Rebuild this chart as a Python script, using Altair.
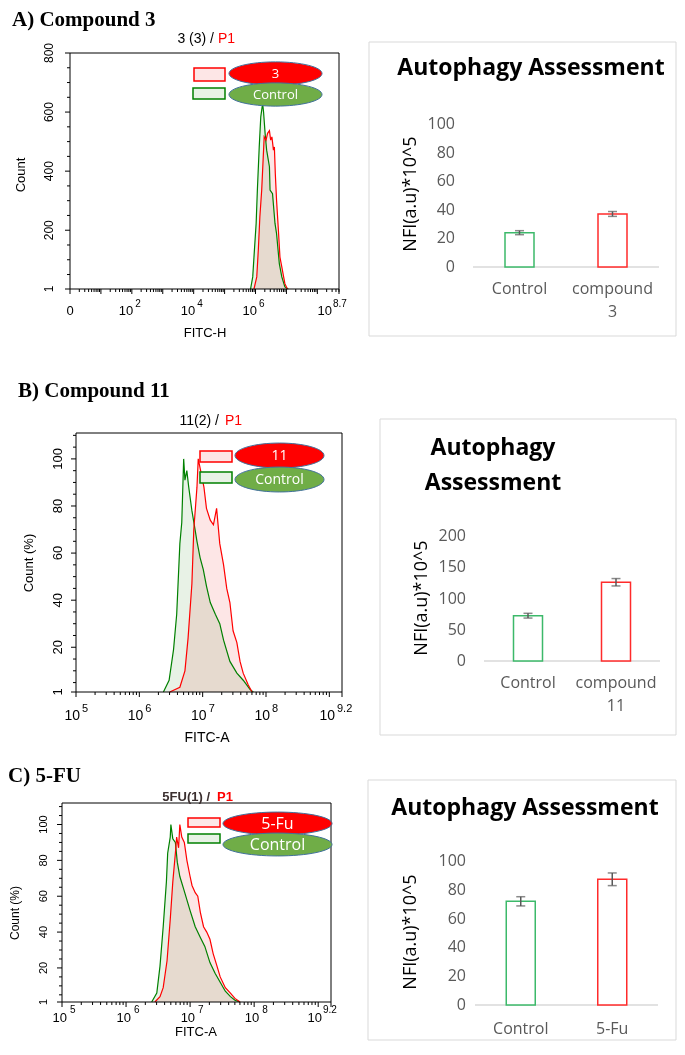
import math
import altair as alt
import pandas as pd

# ---------------- data ----------------
# Panel A flow histogram (x = log10 FITC-H, y = count)
A_red_x = [5.95, 6.04, 6.09, 6.14, 6.20, 6.25, 6.28, 6.34, 6.39, 6.45, 6.49, 6.53, 6.58, 6.61, 6.64, 6.68, 6.74, 6.79, 6.85, 6.90, 6.95, 7.03]
A_red_y = [1, 42, 132, 245, 336, 448, 516, 505, 528, 537, 505, 516, 471, 482, 392, 302, 200, 109, 76, 47, 19, 1]
A_green_x = [5.84, 5.91, 5.95, 6.02, 6.06, 6.12, 6.17, 6.23, 6.26, 6.31, 6.36, 6.45, 6.47, 6.55, 6.63, 6.68, 6.77, 6.85, 6.95, 7.06]
A_green_y = [1, 42, 109, 223, 336, 482, 584, 630, 600, 528, 471, 415, 336, 324, 223, 189, 87, 42, 8, 1]

# Panel B flow histogram (x = log10 FITC-A, y = count %)
B_red_x = [6.48, 6.64, 6.72, 6.77, 6.83, 6.86, 6.91, 6.93, 6.99, 7.02, 7.06, 7.12, 7.17, 7.22, 7.27, 7.33, 7.38, 7.43, 7.48, 7.54, 7.59, 7.64, 7.72, 7.78]
B_red_y = [1, 3, 10, 24, 47, 70, 88, 100, 92, 88, 79, 74, 72, 79, 64, 55, 45, 39, 27, 22, 14, 9, 4, 1]
B_green_x = [6.38, 6.47, 6.54, 6.59, 6.64, 6.67, 6.70, 6.72, 6.75, 6.78, 6.83, 6.88, 6.91, 6.96, 7.01, 7.06, 7.12, 7.20, 7.27, 7.33, 7.43, 7.54, 7.64, 7.75, 7.80]
B_green_y = [1, 6, 19, 34, 64, 73, 100, 91, 95, 88, 78, 70, 65, 58, 53, 46, 39, 34, 30, 23, 14, 9, 6, 2, 1]

# Panel C flow histogram
C_red_x = [6.45, 6.53, 6.58, 6.64, 6.69, 6.73, 6.77, 6.79, 6.82, 6.84, 6.87, 6.91, 6.95, 7.00, 7.03, 7.08, 7.12, 7.16, 7.21, 7.26, 7.31, 7.36, 7.42, 7.47, 7.55, 7.63, 7.70, 7.78]
C_red_y = [1, 4, 9, 24, 47, 68, 84, 93, 87, 100, 93, 90, 80, 71, 66, 62, 60, 51, 43, 40, 36, 28, 21, 15, 9, 6, 3, 1]
C_green_x = [6.40, 6.48, 6.53, 6.58, 6.63, 6.65, 6.69, 6.70, 6.73, 6.77, 6.80, 6.84, 6.90, 6.95, 7.00, 7.08, 7.16, 7.23, 7.31, 7.39, 7.47, 7.55, 7.63, 7.70, 7.78]
C_green_y = [1, 6, 21, 43, 68, 84, 93, 100, 92, 90, 79, 71, 64, 58, 52, 43, 37, 32, 23, 17, 12, 7, 4, 2, 1]

# Histogram axis ticks / labels
A_xmajor = [0, 1, 2, 3, 4, 5, 6, 7, 8, 8.7]
A_xlab_pos = [2, 4, 6]
A_xlab_exp = ["2", "4", "6"]
A_ymajor = [1, 200, 400, 600, 800]
A_ylabels = ["1", "200", "400", "600", "800"]
BC_xmajor = [5, 6, 7, 8, 9, 9.2]
BC_xlab_pos = [5, 6, 7, 8]
BC_xlab_exp = ["5", "6", "7", "8"]
BC_ymajor = [1, 20, 40, 60, 80, 100]
BC_ylabels = ["1", "20", "40", "60", "80", "100"]

# Bar charts (NFI)
A_bar_cats = ["Control", "compound\n3"]
A_bar_vals = [24.0, 37.1]
A_bar_errs = [1.4, 1.7]
A_bar_ticks = [0, 20, 40, 60, 80, 100]
B_bar_cats = ["Control", "compound\n11"]
B_bar_vals = [72.5, 126.0]
B_bar_errs = [3.8, 5.9]
B_bar_ticks = [0, 50, 100, 150, 200]
C_bar_cats = ["Control", "5-Fu"]
C_bar_vals = [72.0, 87.3]
C_bar_errs = [3.2, 4.4]
C_bar_ticks = [0, 20, 40, 60, 80, 100]

# ---------------- styles ----------------
SANS = "Liberation Sans"
SERIF = "Liberation Serif"
OPEN = "Open Sans"
RED = "#ff0000"
GREEN = "#008000"
PINK = "#fde6e6"
LGREEN = "#e8f2e6"
BAR_COLORS = ["#3cb96a", "#ff2b2b"]
GRAY = "#595959"
ONE = pd.DataFrame({"d": [0]})


def txt(text, x, y, size, color="black", font=SANS, align="center",
        baseline="middle", angle=0, weight="normal"):
    return alt.Chart(ONE).mark_text(
        text=text, align=align, baseline=baseline, font=font, fontSize=size,
        color=color, angle=angle, fontWeight=weight
    ).encode(x=alt.value(x), y=alt.value(y))


def rect(x1, x2, y1, y2, fill, stroke, sw=1.5, fo=1):
    return alt.Chart(ONE).mark_rect(fill=fill, stroke=stroke, strokeWidth=sw, fillOpacity=fo).encode(
        x=alt.value(x1), x2=alt.value(x2), y=alt.value(y1), y2=alt.value(y2))


def ellipse(cx, cy, w, ry, fill):
    k = 0.5523
    p = (f"M-1,0 C-1,{-k*ry:.4f} {-k:.4f},{-ry:.4f} 0,{-ry:.4f} "
         f"C{k:.4f},{-ry:.4f} 1,{-k*ry:.4f} 1,0 "
         f"C1,{k*ry:.4f} {k:.4f},{ry:.4f} 0,{ry:.4f} "
         f"C{-k:.4f},{ry:.4f} -1,{k*ry:.4f} -1,0 Z")
    return alt.Chart(ONE).mark_point(
        shape=p, size=w * w, filled=True, fill=fill, stroke="#41719c",
        strokeWidth=1, opacity=1, fillOpacity=1
    ).encode(x=alt.value(cx), y=alt.value(cy))


def hist_panel(p):
    L, R, T, B = p["frame"]
    xs = alt.Scale(domain=p["xdom"], range=[L, R], nice=False, zero=False)
    ys = alt.Scale(domain=p["ydom"], range=[B, T], nice=False, zero=False)
    base = p["ydom"][0]
    red = pd.DataFrame({"x": p["rx"], "y": p["ry"], "b": [base] * len(p["rx"])})
    grn = pd.DataFrame({"x": p["gx"], "y": p["gy"], "b": [base] * len(p["gx"])})
    X = lambda: alt.X("x:Q", scale=xs, axis=None)
    Y = lambda: alt.Y("y:Q", scale=ys, axis=None)
    layers = [
        alt.Chart(red).mark_area(color=PINK, blend="multiply", opacity=1).encode(x=X(), y=Y(), y2="b:Q"),
        alt.Chart(grn).mark_area(color=LGREEN, blend="multiply", opacity=1).encode(x=X(), y=Y(), y2="b:Q"),
        alt.Chart(grn).mark_line(color=GREEN, strokeWidth=1.2).encode(x=X(), y=Y()),
        alt.Chart(red).mark_line(color=RED, strokeWidth=1.2).encode(x=X(), y=Y()),
        rect(L, R, T, B, "white", "black", sw=1, fo=0),
        # ticks
        alt.Chart(pd.DataFrame({"x": p["xmajor"]})).mark_rule(color="black", strokeWidth=1).encode(
            x=X(), y=alt.value(B), y2=alt.value(B + 5)),
        alt.Chart(pd.DataFrame({"x": p["xminor"]})).mark_rule(color="black", strokeWidth=1).encode(
            x=X(), y=alt.value(B), y2=alt.value(B + 3)),
        alt.Chart(pd.DataFrame({"y": p["ymajor"]})).mark_rule(color="black", strokeWidth=1).encode(
            y=Y(), x=alt.value(L - 5), x2=alt.value(L)),
        alt.Chart(pd.DataFrame({"y": p["yminor"]})).mark_rule(color="black", strokeWidth=1).encode(
            y=Y(), x=alt.value(L - 3), x2=alt.value(L)),
        # tick labels
        alt.Chart(pd.DataFrame({"y": p["ymajor"], "t": p["ylabels"]})).mark_text(
            angle=270, align="center", baseline="alphabetic", font=SANS,
            fontSize=p["ylab_size"], color="black"
        ).encode(y=Y(), x=alt.value(p["ylab_x"]), text="t:N"),
        alt.Chart(pd.DataFrame({"x": p["xlab_pos"]})).mark_text(
            text="10", align="right", baseline="alphabetic", dx=p["base_dx"],
            font=SANS, fontSize=p["base_size"], color="black"
        ).encode(x=X(), y=alt.value(p["base_y"])),
        alt.Chart(pd.DataFrame({"x": p["xlab_pos"], "t": p["xlab_exp"]})).mark_text(
            align="left", baseline="alphabetic", dx=p["exp_dx"],
            font=SANS, fontSize=p["exp_size"], color="black"
        ).encode(x=X(), y=alt.value(p["exp_y"]), text="t:N"),
        alt.Chart(pd.DataFrame({"x": [p["end"][0]]})).mark_text(
            text="10", align="right", baseline="alphabetic", dx=p["end_base_dx"],
            font=SANS, fontSize=p["base_size"], color="black"
        ).encode(x=X(), y=alt.value(p["base_y"])),
        alt.Chart(pd.DataFrame({"x": [p["end"][0]], "t": [p["end"][1]]})).mark_text(
            align="left", baseline="alphabetic", dx=p["end_exp_dx"],
            font=SANS, fontSize=p["exp_size"], color="black"
        ).encode(x=X(), y=alt.value(p["exp_y"]), text="t:N"),
    ]
    if p.get("zero"):
        layers.append(alt.Chart(pd.DataFrame({"x": [0]})).mark_text(
            text="0", align="center", baseline="alphabetic", font=SANS,
            fontSize=p["base_size"], color="black").encode(x=X(), y=alt.value(p["base_y"])))
    layers += [
        txt(p["title"], p["title_xy"][0], p["title_xy"][1], 21, font=SERIF,
            align="left", baseline="alphabetic", weight="bold"),
        txt(p["sub"], p["sub_x"][0], p["sub_y"], p["sub_size"], color=p["sub_color"],
            align="right", baseline="alphabetic", weight=p["sub_weight"]),
        txt("P1", p["sub_x"][1], p["sub_y"], p["sub_size"], color=RED,
            align="left", baseline="alphabetic", weight=p["sub_weight"]),
        txt(p["ytitle"], p["ytitle_xy"][0], p["ytitle_xy"][1], p["ytitle_size"], angle=270),
        txt(p["xtitle"], p["xtitle_xy"][0], p["xtitle_xy"][1], p["xtitle_size"]),
        rect(*p["rect1"], PINK, RED),
        rect(*p["rect2"], LGREEN, GREEN),
        ellipse(p["e1"][0], p["e1"][1], p["ew"], p["ery"], RED),
        txt(p["lab1"], p["e1"][0], p["e1"][1], p["elab_size"], color="white", font=OPEN),
        ellipse(p["e2"][0], p["e2"][1], p["ew"], p["ery"], "#70ad47"),
        txt("Control", p["e2"][0], p["e2"][1], p["elab_size"], color="white", font=OPEN),
    ]
    return alt.layer(*layers)


def bar_panel(p):
    L, R, T, B = p["frame"]
    df = pd.DataFrame({
        "cat": p["cats"], "val": p["vals"],
        "lo": [v - e for v, e in zip(p["vals"], p["errs"])],
        "hi": [v + e for v, e in zip(p["vals"], p["errs"])],
        "z": [0, 0], "col": BAR_COLORS,
    })
    xsc = alt.Scale(domain=p["cats"], range=[L, R], paddingInner=0, paddingOuter=0)
    ysc = alt.Scale(domain=p["ydom"], range=[B, T], nice=False)
    X = lambda: alt.X("cat:N", scale=xsc, sort=None, axis=None)
    Y = lambda f: alt.Y(f, scale=ysc, axis=None)
    bx = p["box"]
    layers = [
        rect(bx[0], bx[1], bx[2], bx[3], "white", "#d9d9d9", sw=1, fo=0),
        alt.Chart(pd.DataFrame({"v": [0]})).mark_rule(color="#d9d9d9", strokeWidth=1.5).encode(
            y=Y("v:Q"), x=alt.value(L), x2=alt.value(R)),
        alt.Chart(df).mark_bar(size=29, fill="white", strokeWidth=1.5).encode(
            x=X(), y=Y("val:Q"), y2="z:Q", stroke=alt.Stroke("col:N", scale=None)),
        alt.Chart(df).mark_rule(color=GRAY, strokeWidth=1.5).encode(x=X(), y=Y("lo:Q"), y2="hi:Q"),
        alt.Chart(df).mark_tick(color=GRAY, size=9, thickness=1.5).encode(x=X(), y=Y("lo:Q")),
        alt.Chart(df).mark_tick(color=GRAY, size=9, thickness=1.5).encode(x=X(), y=Y("hi:Q")),
        alt.Chart(pd.DataFrame({"v": p["yticks"], "t": [str(v) for v in p["yticks"]]})).mark_text(
            align="right", baseline="middle", font=OPEN, fontSize=16, color=GRAY
        ).encode(y=Y("v:Q"), x=alt.value(L - p["ylab_pad"]), text="t:N"),
        alt.Chart(df).mark_text(
            align="center", baseline="top", font=OPEN, fontSize=16, color=GRAY,
            lineBreak="\n", lineHeight=23
        ).encode(x=X(), y=alt.value(p["xlab_y"]), text="cat:N"),
        txt("NFI(a.u)*10^5", p["ytitle_xy"][0], p["ytitle_xy"][1], 18, font=OPEN, angle=270),
    ]
    for t, x, y in p["titles"]:
        layers.append(txt(t, x, y, 23, font=OPEN, weight="bold"))
    return alt.layer(*layers)


def minor_log(d0, d1, end):
    return [round(d + math.log10(k), 4) for d in range(d0, d1) for k in range(2, 10)
            if d + math.log10(k) < end]


histA = hist_panel(dict(
    frame=(62, 331, 45, 281), xdom=[0, 8.7], ydom=[1, 800],
    rx=A_red_x, ry=A_red_y, gx=A_green_x, gy=A_green_y,
    xmajor=A_xmajor, ymajor=A_ymajor, ylabels=A_ylabels,
    xminor=minor_log(0, 9, 8.7),
    yminor=[v for v in range(50, 800, 50) if v % 200 != 0],
    ylab_x=45, ylab_size=12,
    xlab_pos=A_xlab_pos, xlab_exp=A_xlab_exp, end=(8.7, "8.7"), zero=True,
    base_dx=1.5, exp_dx=3.5, end_base_dx=-7, end_exp_dx=-6,
    base_y=307, exp_y=299, base_size=13, exp_size=10,
    title="A) Compound 3", title_xy=(4, 18),
    sub="3 (3) /", sub_x=(206, 210), sub_y=35, sub_size=14, sub_color="black", sub_weight="normal",
    ytitle="Count", ytitle_xy=(13, 167), ytitle_size=13,
    xtitle="FITC-H", xtitle_xy=(197, 325), xtitle_size=13,
    rect1=(186, 217, 60, 73), rect2=(185, 217, 80, 91),
    e1=(267.5, 65.5), e2=(267.5, 86.5), ew=93, ery=0.25, lab1="3", elab_size=13,
))

histB = hist_panel(dict(
    frame=(68, 334, 425, 684), xdom=[5, 9.2], ydom=[1, 111],
    rx=B_red_x, ry=B_red_y, gx=B_green_x, gy=B_green_y,
    xmajor=BC_xmajor, ymajor=BC_ymajor, ylabels=BC_ylabels,
    xminor=minor_log(5, 10, 9.2),
    yminor=[v for v in range(5, 111, 5) if v % 20 != 0],
    ylab_x=54, ylab_size=13,
    xlab_pos=BC_xlab_pos, xlab_exp=BC_xlab_exp, end=(9.2, "9.2"),
    base_dx=4, exp_dx=6, end_base_dx=-7, end_exp_dx=-5,
    base_y=712, exp_y=704, base_size=14, exp_size=11,
    title="B) Compound 11", title_xy=(10, 389),
    sub="11(2) /", sub_x=(211, 217), sub_y=417, sub_size=14, sub_color="black", sub_weight="normal",
    ytitle="Count (%)", ytitle_xy=(21, 555), ytitle_size=13,
    xtitle="FITC-A", xtitle_xy=(199, 730), xtitle_size=14,
    rect1=(192, 224, 443, 454), rect2=(192, 224, 464, 475),
    e1=(271.5, 447.5), e2=(271.5, 471.5), ew=89, ery=0.28, lab1="11", elab_size=14,
))

histC = hist_panel(dict(
    frame=(54, 323, 795, 994), xdom=[5, 9.2], ydom=[1, 112],
    rx=C_red_x, ry=C_red_y, gx=C_green_x, gy=C_green_y,
    xmajor=BC_xmajor, ymajor=BC_ymajor, ylabels=BC_ylabels,
    xminor=minor_log(5, 10, 9.2),
    yminor=[v for v in range(5, 112, 5) if v % 20 != 0],
    ylab_x=39, ylab_size=11,
    xlab_pos=BC_xlab_pos, xlab_exp=BC_xlab_exp, end=(9.2, "9.2"),
    base_dx=5, exp_dx=8, end_base_dx=-9, end_exp_dx=-8,
    base_y=1014, exp_y=1005, base_size=13, exp_size=10,
    title="C)  5-FU", title_xy=(0, 774),
    sub="5FU(1) /", sub_x=(202, 209), sub_y=793, sub_size=13, sub_color="#3b2f2f", sub_weight="bold",
    ytitle="Count (%)", ytitle_xy=(7, 905), ytitle_size=12,
    xtitle="FITC-A", xtitle_xy=(188, 1024), xtitle_size=13,
    rect1=(180, 212, 810, 819), rect2=(180, 212, 826, 835),
    e1=(269.5, 815.5), e2=(269.5, 836.5), ew=109, ery=0.21, lab1="5-Fu", elab_size=16,
))

barA = bar_panel(dict(
    frame=(465, 651, 116, 259), cats=A_bar_cats, vals=A_bar_vals, errs=A_bar_errs,
    ydom=[0, 100], yticks=A_bar_ticks, ylab_pad=18, xlab_y=273,
    box=(361, 668, 34, 328), titles=[("Autophagy Assessment", 523, 60)],
    ytitle_xy=(403, 186),
))
barB = bar_panel(dict(
    frame=(476, 652, 528, 653), cats=B_bar_cats, vals=B_bar_vals, errs=B_bar_errs,
    ydom=[0, 200], yticks=B_bar_ticks, ylab_pad=18, xlab_y=667,
    box=(372, 668, 411, 727), titles=[("Autophagy", 485, 440), ("Assessment", 485, 475)],
    ytitle_xy=(414, 590),
))
barC = bar_panel(dict(
    frame=(467, 650, 853, 997), cats=C_bar_cats, vals=C_bar_vals, errs=C_bar_errs,
    ydom=[0, 100], yticks=C_bar_ticks, ylab_pad=9, xlab_y=1013,
    box=(360, 668, 772, 1032), titles=[("Autophagy Assessment", 517, 800)],
    ytitle_xy=(403, 924),
))

chart = alt.layer(histA, barA, histB, barB, histC, barC).resolve_scale(
    x="independent", y="independent"
).properties(
    width=669, height=1033, padding=0,
    autosize=alt.AutoSizeParams(type="none"),
).configure_view(stroke="transparent")

chart.save("out.html", embed_options={"renderer": "svg", "actions": False})
